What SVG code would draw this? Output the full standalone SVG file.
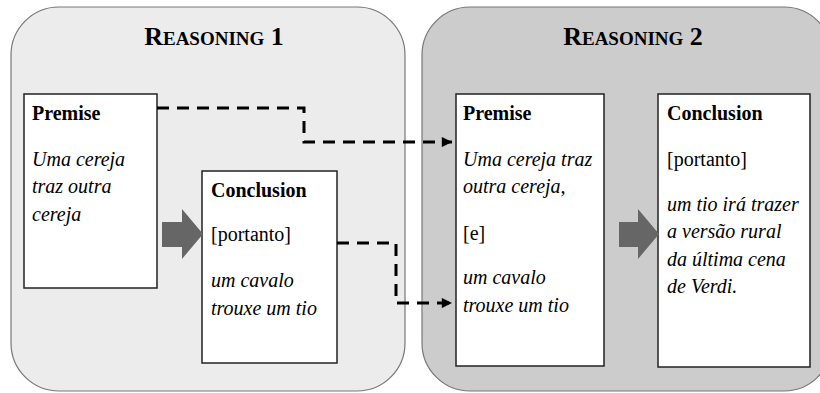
<svg xmlns="http://www.w3.org/2000/svg" width="820" height="393" viewBox="0 0 820 393">
<style>
text{font-family:"Liberation Serif","Times New Roman",serif;fill:#000}
.hd{font-weight:bold;font-size:20px}
.it{font-style:italic;font-size:20px}
.rg{font-size:20px}
.ttl{font-weight:bold;font-size:26px}
.ttl tspan.sc{font-size:19px}
.box{fill:#fff;stroke:#222;stroke-width:1.5}
.blk{fill:#666}
.dash{fill:none;stroke:#000;stroke-width:3;stroke-dasharray:12 8}
</style>
<defs>
<marker id="ah" viewBox="0 0 10 10" refX="10" refY="5" markerWidth="4" markerHeight="3.4" orient="auto" markerUnits="strokeWidth">
<path d="M0,0 L10,5 L0,10 Z" fill="#000"/>
</marker>
</defs>
<g id="reasoning1">
<rect x="11" y="7" width="394" height="384" rx="48" ry="48" fill="#ececec" stroke="#777" stroke-width="1.2"/>
<text class="ttl" x="214" y="45" text-anchor="middle">R<tspan class="sc">EASONING</tspan> 1</text>
</g>
<g id="reasoning2">
<rect x="422" y="7" width="410" height="384" rx="48" ry="48" fill="#cccccc" stroke="#777" stroke-width="1.2"/>
<text class="ttl" x="633" y="45" text-anchor="middle">R<tspan class="sc">EASONING</tspan> 2</text>
</g>
<g id="premise1">
<rect class="box" x="24" y="94" width="133" height="194"/>
<text class="hd" x="32" y="120">Premise</text>
<text class="it" x="32" y="166">Uma cereja</text>
<text class="it" x="32" y="193">traz outra</text>
<text class="it" x="32" y="221">cereja</text>
</g>
<g id="conclusion1">
<rect class="box" x="202" y="171" width="135" height="192"/>
<text class="hd" x="211" y="197">Conclusion</text>
<text class="rg" x="211" y="241">[portanto]</text>
<text class="it" x="211" y="287">um cavalo</text>
<text class="it" x="211" y="315">trouxe um tio</text>
</g>
<g id="premise2">
<rect class="box" x="456" y="94" width="148" height="272"/>
<text class="hd" x="463" y="120">Premise</text>
<text class="it" x="463" y="166">Uma cereja traz</text>
<text class="it" x="463" y="193">outra cereja,</text>
<text class="rg" x="463" y="240">[e]</text>
<text class="it" x="463" y="284">um cavalo</text>
<text class="it" x="463" y="312">trouxe um tio</text>
</g>
<g id="conclusion2">
<rect class="box" x="658" y="94" width="152" height="273"/>
<text class="hd" x="667" y="120">Conclusion</text>
<text class="rg" x="667" y="166">[portanto]</text>
<text class="it" x="667" y="211">um tio irá trazer</text>
<text class="it" x="667" y="238">a versão rural</text>
<text class="it" x="667" y="266">da última cena</text>
<text class="it" x="667" y="293">de Verdi.</text>
</g>
<g id="connectors">
<path class="blk" d="M162,222 H182 V209 L203,234 L182,259 V247 H162 Z"/>
<path class="blk" d="M619,222 H638 V209 L659,234 L638,259 V247 H619 Z"/>
<path class="dash" d="M157,108 H304 V142 H452" marker-end="url(#ah)"/>
<path class="dash" d="M337,243 H396 V303 H452" marker-end="url(#ah)"/>
</g>
</svg>
